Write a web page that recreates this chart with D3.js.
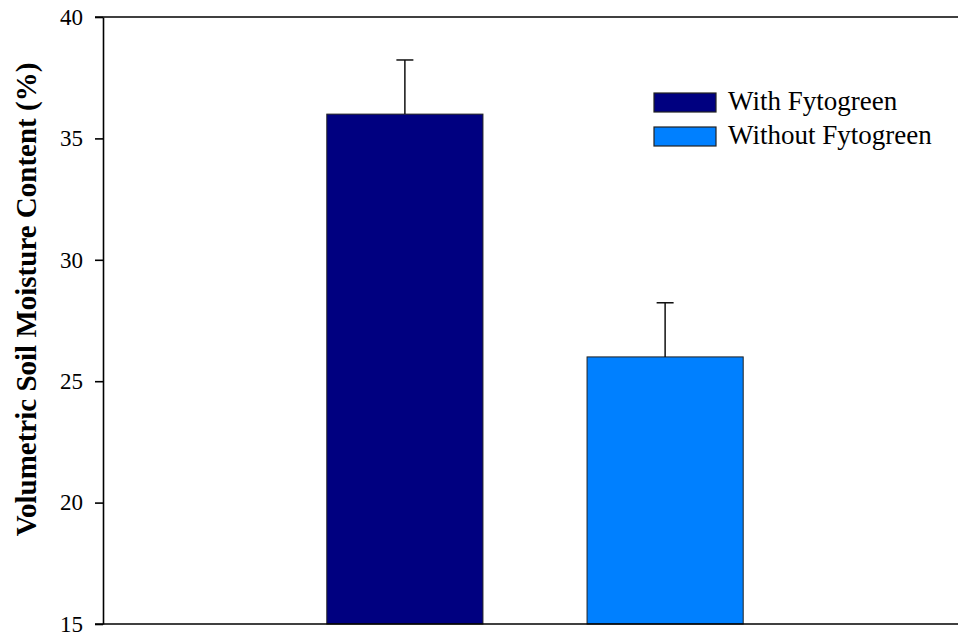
<!DOCTYPE html>
<html><head><meta charset="utf-8">
<script src="https://cdn.jsdelivr.net/npm/d3@7"></script>
<style>body{margin:0;background:#fff}svg{display:block}
text{font-family:"Liberation Serif","Times New Roman",Times,"DejaVu Serif",serif}</style>
</head><body>
<script>
const categories = ["With Fytogreen", "Without Fytogreen"];
const values = [36.0, 26.0];
const errors = [2.23, 2.23];
const colors = ["#000080", "#0080FF"];
const yTicks = [15, 20, 25, 30, 35, 40];
const yTitle = "Volumetric Soil Moisture Content (%)";

(function () {
const W = 958, H = 637;
const pL = 103, pR = 967, pT = 17, pB = 624;
const svg = d3.select("body").append("svg").attr("width", W).attr("height", H);

const x = d3.scaleBand().domain(categories).range([pL, pR]).paddingInner(0.4).paddingOuter(0.86);
const y = d3.scaleLinear().domain([15, 40]).range([pB, pT]);

// bars
svg.selectAll("rect.bar").data(categories).enter().append("rect")
  .attr("x", d => x(d)).attr("width", x.bandwidth())
  .attr("y", (d, i) => y(values[i])).attr("height", (d, i) => y(15) - y(values[i]))
  .attr("fill", (d, i) => colors[i]).attr("stroke", "#222").attr("stroke-width", 1);

// error bars
categories.forEach((d, i) => {
  const cx = x(d) + x.bandwidth() / 2;
  svg.append("line").attr("x1", cx).attr("x2", cx).attr("y1", y(values[i])).attr("y2", y(values[i] + errors[i]))
    .attr("stroke", "#111").attr("stroke-width", 1.5);
  svg.append("line").attr("x1", cx - 8.5).attr("x2", cx + 8.5).attr("y1", y(values[i] + errors[i])).attr("y2", y(values[i] + errors[i]))
    .attr("stroke", "#111").attr("stroke-width", 1.5);
});

// y axis
const yAxis = d3.axisLeft(y).tickValues(yTicks).tickSize(8).tickPadding(12).tickSizeOuter(0);
const ga = svg.append("g").attr("transform", `translate(${pL},0)`).call(yAxis);
ga.attr("font-family", null);
ga.select(".domain").attr("stroke", "#000").attr("stroke-width", 1.6);
ga.selectAll(".tick line").attr("stroke", "#000").attr("stroke-width", 1.6);
ga.selectAll(".tick text").attr("font-size", 23).attr("fill", "#000");

// frame
svg.append("line").attr("x1", pL - 8).attr("x2", pR).attr("y1", pT).attr("y2", pT).attr("stroke", "#000").attr("stroke-width", 1.6);
svg.append("line").attr("x1", pL - 8).attr("x2", pR).attr("y1", pB).attr("y2", pB).attr("stroke", "#000").attr("stroke-width", 1.6);
svg.append("line").attr("x1", pR).attr("x2", pR).attr("y1", pT).attr("y2", pB).attr("stroke", "#000").attr("stroke-width", 1.6);

// y title
svg.append("text").attr("transform", `translate(36,${(63+536)/2}) rotate(-90)`)
  .attr("text-anchor", "middle")
  .attr("font-weight", "bold").attr("font-size", 29).attr("fill", "#000").text(yTitle);

// legend
const lg = svg.append("g");
categories.forEach((d, i) => {
  const ly = 93 + i * 34;
  lg.append("rect").attr("x", 654).attr("y", ly).attr("width", 62).attr("height", 19)
    .attr("fill", colors[i]).attr("stroke", "#222").attr("stroke-width", 1.2);
  lg.append("text").attr("x", 728).attr("y", ly + 17)
    .attr("font-size", 27).attr("fill", "#000").text(d);
});
})();
</script>
</body></html>
